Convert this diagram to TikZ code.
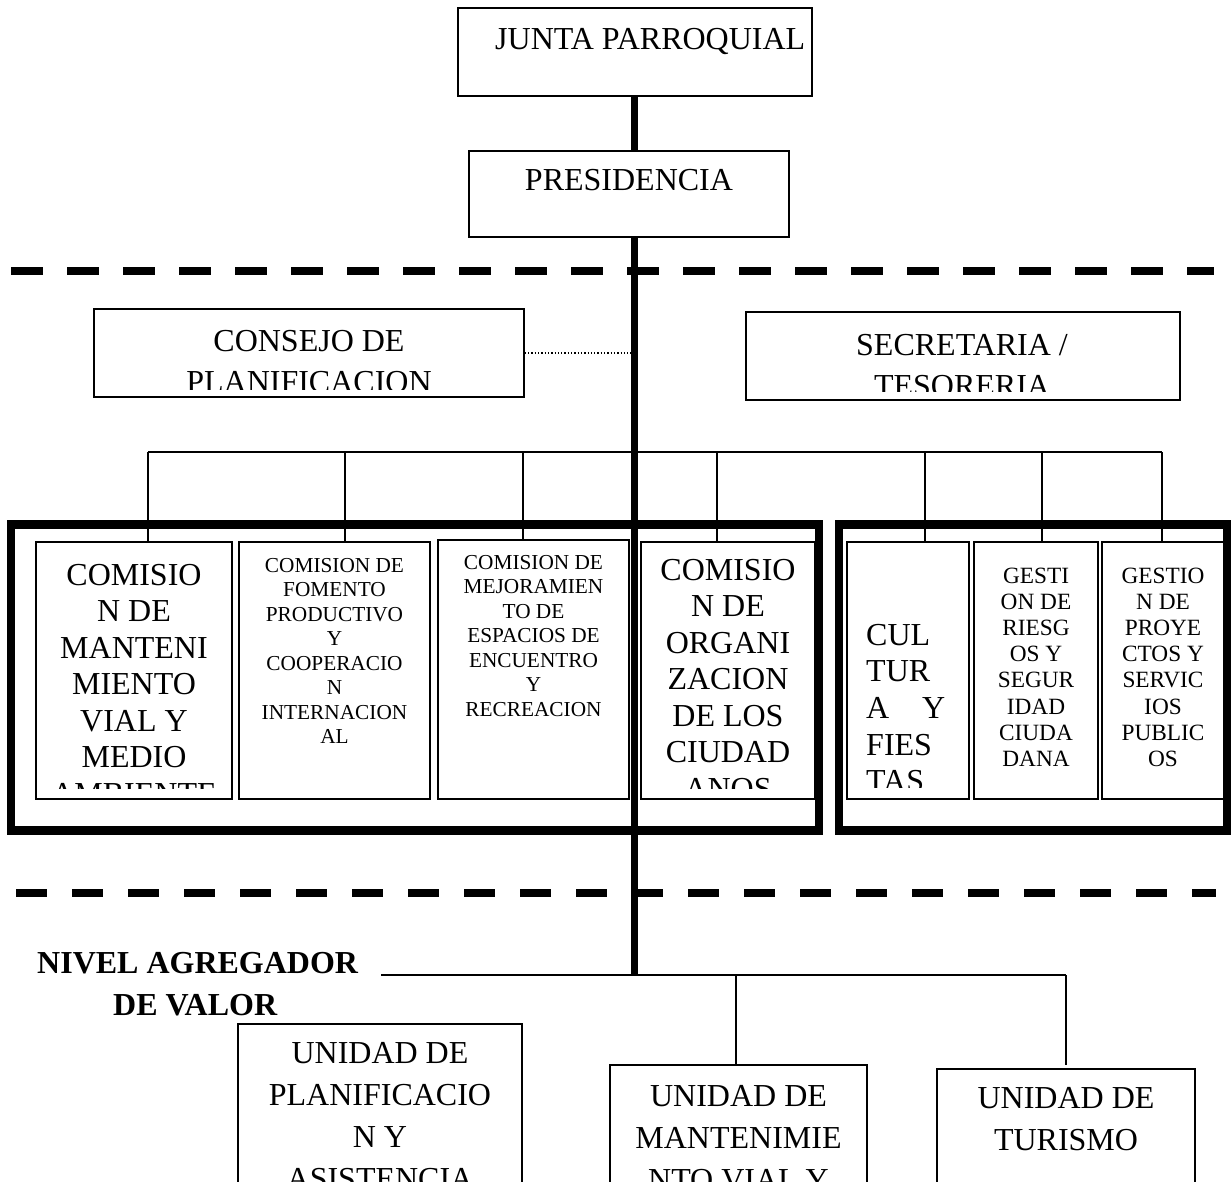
\documentclass[tikz,border=0pt]{standalone}
\usepackage{fontspec}
\setmainfont{Liberation Serif}
\newcommand\ctrlines[1]{\vtop{\halign{\hfil##\hfil\cr#1\crcr}}}
\newcommand\leftlines[1]{\vtop{\halign{##\hfil\cr#1\crcr}}}
\begin{document}
\begin{tikzpicture}[x=1pt,y=-1pt,
  box/.style={draw, line width=1.6pt, inner sep=0pt, fill=none},
  grp/.style={draw, line width=8.5pt},
  spine/.style={line width=7pt},
  conn/.style={line width=2pt},
  sep/.style={line width=8pt, dash pattern=on 32pt off 24pt},
  sepb/.style={line width=8pt, dash pattern=on 31pt off 25pt},
  txt/.style={anchor=base, inner sep=0pt},
  big/.style={font=\fontsize{32}{36.5}\selectfont},
  mid/.style={font=\fontsize{23.3}{26.2}\selectfont},
  sml/.style={font=\fontsize{21.3}{24.5}\selectfont},
  hdr/.style={font=\fontsize{32}{41}\selectfont},
  unit/.style={font=\fontsize{32}{42.3}\selectfont}]
\clip (0,0) rectangle (1231,1182);
\fill[white] (0,0) rectangle (1231,1182);

% dashed level separators
\coordinate (d1a) at (11,271); \coordinate (d1b) at (1214,271);
\coordinate (d2a) at (16,893); \coordinate (d2b) at (1216,893);
\draw[sep] (d1a) -- (d1b);
\draw[sepb] (d2a) -- (d2b);

% top boxes
\node[box, minimum width=354pt, minimum height=88pt] (junta) at (635,52) {};
\node[anchor=base west, inner sep=0pt, font=\fontsize{32}{36}\selectfont] (juntat) at (495,50) {JUNTA PARROQUIAL};
\node[box, minimum width=320pt, minimum height=86pt] (pres) at (629,194) {};
\node[txt, big] (prest) at (629,191) {PRESIDENCIA};

\node[box, minimum width=430pt, minimum height=88pt] (consejo) at (309,353) {};
\begin{scope}
  \clip (94,309) rectangle (524,389);
  \node[txt, hdr] (consejot) at (309,351) {\ctrlines{CONSEJO DE\cr PLANIFICACION}};
\end{scope}
\node[box, minimum width=434pt, minimum height=88pt] (secret) at (963,356) {};
\begin{scope}
  \clip (746,312) rectangle (1180,391);
  \node[txt, hdr] (secrett) at (962,355) {\ctrlines{SECRETARIA /\cr TESORERIA}};
\end{scope}

% spine
\coordinate (sp) at (634,975);
\draw[spine] (junta.south -| sp) -- (pres.north -| sp);
\draw[spine] (pres.south -| sp) -- (sp);
\draw[line width=1.3pt, dotted] (consejo.east) -- (consejo.east -| sp);

% group frames
\node[grp, minimum width=808pt, minimum height=306pt, inner sep=0pt] (gl) at (415,520) [anchor=north] {};
\node[grp, minimum width=388pt, minimum height=306pt, inner sep=0pt] (gr) at (1033,520) [anchor=north] {};

% commission boxes
\node[box, minimum width=196pt, minimum height=257pt] (c1) at (134,670.5) {};
\node[box, minimum width=191pt, minimum height=257pt] (c2) at (334.5,670.5) {};
\node[box, minimum width=191pt, minimum height=259pt] (c3) at (533.5,669.5) {};
\node[box, minimum width=174pt, minimum height=257pt] (c4) at (728,670.5) {};
\node[box, minimum width=122pt, minimum height=257pt] (c5) at (908,670.5) {};
\node[box, minimum width=124pt, minimum height=257pt] (c6) at (1036,670.5) {};
\node[box, minimum width=124pt, minimum height=257pt] (c7) at (1164,670.5) {};

\begin{scope}
  \clip (36,542) rectangle (232,788);
  \node[txt, big] (c1t) at (134,585) {\ctrlines{COMISIO\cr N DE\cr MANTENI\cr MIENTO\cr VIAL Y\cr MEDIO\cr AMBIENTE}};
\end{scope}
\node[txt, sml] (c2t) at (334.5,572) {\ctrlines{COMISION DE\cr FOMENTO\cr PRODUCTIVO\cr Y\cr COOPERACIO\cr N\cr INTERNACION\cr AL}};
\node[txt, sml] (c3t) at (533.5,569) {\ctrlines{COMISION DE\cr MEJORAMIEN\cr TO DE\cr ESPACIOS DE\cr ENCUENTRO\cr Y\cr RECREACION}};
\begin{scope}
  \clip (641,542) rectangle (815,788);
  \node[txt, big] (c4t) at (728,580) {\ctrlines{COMISIO\cr N DE\cr ORGANI\cr ZACION\cr DE LOS\cr CIUDAD\cr ANOS}};
\end{scope}
\begin{scope}
  \clip (847,542) rectangle (969,787);
  \node[anchor=base west, inner sep=0pt, font=\fontsize{32}{36.7}\selectfont] (c5t) at (866,645) {\leftlines{CUL\cr TUR\cr \hbox to 79pt{A\hfill Y}\cr FIES\cr TAS}};
\end{scope}
\node[txt, mid] (c6t) at (1036,583) {\ctrlines{GESTI\cr ON DE\cr RIESG\cr OS Y\cr SEGUR\cr IDAD\cr CIUDA\cr DANA}};
\node[txt, mid] (c7t) at (1163,583) {\ctrlines{GESTIO\cr N DE\cr PROYE\cr CTOS Y\cr SERVIC\cr IOS\cr PUBLIC\cr OS}};

% bus to commissions
\coordinate (busl) at (148,452); \coordinate (busr) at (1162,452);
\draw[conn] (busl) -- (busr);
\foreach \xx in {148,345,523,717,925,1042,1162}
  \draw[conn] (\xx,452) -- (\xx,541);

% added-value level
\node[anchor=base west, inner sep=0pt, font=\bfseries\fontsize{32}{36}\selectfont] (nivel) at (37,973) {NIVEL AGREGADOR};
\node[anchor=base west, inner sep=0pt, font=\bfseries\fontsize{32}{36}\selectfont] (valor) at (113,1015) {DE VALOR};
\coordinate (nl) at (381,975); \coordinate (nr) at (1066,975);
\draw[conn] (nl) -- (nr);

\node[box, minimum width=284pt, minimum height=176pt] (u1) at (380,1112) {};
\node[box, minimum width=257pt, minimum height=135pt] (u2) at (738.5,1132.5) {};
\node[box, minimum width=258pt, minimum height=131pt] (u3) at (1066,1134.5) {};
\draw[conn] (736,975) -- (u2.north -| 736,0);
\draw[conn] (nr) -- (1066,1065);

\node[txt, unit] (u1t) at (380,1063) {\ctrlines{UNIDAD DE\cr PLANIFICACIO\cr N Y\cr ASISTENCIA}};
\node[txt, unit] (u2t) at (738.5,1106) {\ctrlines{UNIDAD DE\cr MANTENIMIE\cr NTO VIAL Y}};
\node[txt, unit] (u3t) at (1066,1108) {\ctrlines{UNIDAD DE\cr TURISMO}};
\end{tikzpicture}
\end{document}
